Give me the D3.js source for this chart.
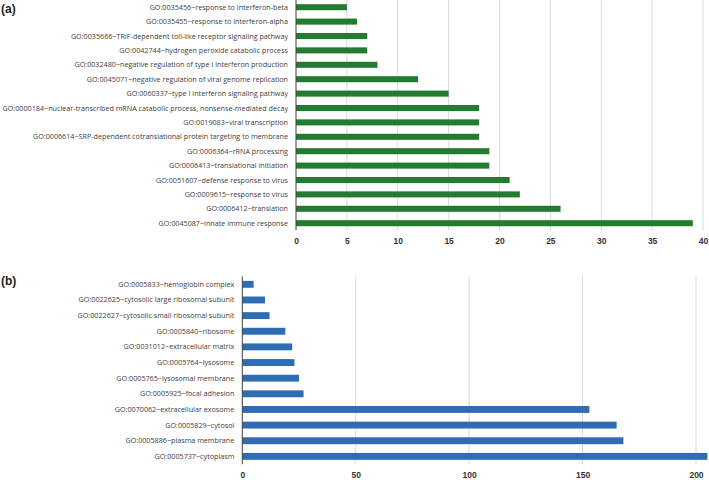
<!DOCTYPE html>
<html><head><meta charset="utf-8">
<script src="https://cdn.jsdelivr.net/npm/d3@7"></script>
<style>body{margin:0;background:#fff}svg{display:block}</style>
</head><body>
<svg id="c" width="709" height="480"></svg>
<script>
const catsA = [
 "GO:0035456~response to interferon-beta",
 "GO:0035455~response to interferon-alpha",
 "GO:0035666~TRIF-dependent toll-like receptor signaling pathway",
 "GO:0042744~hydrogen peroxide catabolic process",
 "GO:0032480~negative regulation of type I interferon production",
 "GO:0045071~negative regulation of viral genome replication",
 "GO:0060337~type I interferon signaling pathway",
 "GO:0000184~nuclear-transcribed mRNA catabolic process, nonsense-mediated decay",
 "GO:0019083~viral transcription",
 "GO:0006614~SRP-dependent cotranslational protein targeting to membrane",
 "GO:0006364~rRNA processing",
 "GO:0006413~translational initiation",
 "GO:0051607~defense response to virus",
 "GO:0009615~response to virus",
 "GO:0006412~translation",
 "GO:0045087~innate immune response"
];
const valsA = [5,6,7,7,8,12,15,18,18,18,19,19,21,22,26,39];
const ticksA = [0,5,10,15,20,25,30,35,40];

const catsB = [
 "GO:0005833~hemoglobin complex",
 "GO:0022625~cytosolic large ribosomal subunit",
 "GO:0022627~cytosolic small ribosomal subunit",
 "GO:0005840~ribosome",
 "GO:0031012~extracellular matrix",
 "GO:0005764~lysosome",
 "GO:0005765~lysosomal membrane",
 "GO:0005925~focal adhesion",
 "GO:0070062~extracellular exosome",
 "GO:0005829~cytosol",
 "GO:0005886~plasma membrane",
 "GO:0005737~cytoplasm"
];
const valsB = [5,10,12,19,22,23,25,27,153,165,168,205];
const ticksB = [0,50,100,150,200];

const svg = d3.select("#c");
const labelFont = "'Liberation Sans Narrow', 'Open Sans', sans-serif";

// size label font so the longest label spans the reference width
const probe = svg.append("text").attr("font-family", labelFont).attr("font-size", 10)
  .text(catsA[7]);
const w10 = probe.node().getComputedTextLength();
probe.remove();
const labelFs = Math.min(9, 10 * 286 / w10);

function panel(cfg){
  const g = svg.append("g");
  const x = d3.scaleLinear().domain(cfg.domain).range([cfg.x0, cfg.x1]);
  const y = d3.scaleBand().domain(cfg.cats).range([cfg.y0, cfg.y1]).paddingInner(cfg.pad).paddingOuter(cfg.pad/2);
  g.selectAll("line.grid").data(cfg.ticks.filter(t=>t>0)).join("line")
    .attr("x1", d=>x(d)).attr("x2", d=>x(d))
    .attr("y1", cfg.y0).attr("y2", cfg.y1)
    .attr("stroke", "#d9d9d9").attr("stroke-width", 1);
  g.selectAll("rect").data(cfg.vals).join("rect")
    .attr("x", x(0)).attr("y", (d,i)=>y(cfg.cats[i]))
    .attr("width", d=>x(d)-x(0)).attr("height", y.bandwidth())
    .attr("fill", cfg.color);
  g.append("line").attr("x1", x(0)).attr("x2", x(0)).attr("y1", cfg.y0).attr("y2", cfg.y1)
    .attr("stroke", "#404040").attr("stroke-width", 1);
  g.selectAll("text.cat").data(cfg.cats).join("text")
    .attr("x", x(0) - 8).attr("y", d=>y(d)+y.bandwidth()/2)
    .attr("dy", "0.35em").attr("text-anchor", "end")
    .attr("font-family", labelFont).attr("font-size", labelFs)
    .attr("fill", "#404040").text(d=>d);
  const xa = d3.axisBottom(x).tickValues(cfg.ticks).tickSize(0).tickPadding(0).tickFormat(d3.format("d"));
  const ax = g.append("g").attr("transform", `translate(0,${cfg.ty})`).call(xa);
  ax.select(".domain").remove();
  ax.selectAll("text").attr("font-family", "'Liberation Sans', sans-serif").attr("font-size", 8.5)
    .attr("font-weight", "bold").attr("fill", "#333").attr("dy", "0.35em");
  svg.append("text").attr("x", 1).attr("y", cfg.ly).attr("font-family", "Liberation Sans, Arial, sans-serif")
    .attr("font-weight", "bold").attr("font-size", 12).attr("fill", "#222").text(cfg.label);
}

panel({cats:catsA, vals:valsA, ticks:ticksA, domain:[0,40], x0:296, x1:703,
  y0:0, y1:230.4, pad:0.58, color:"#237b2f", ty:241, label:"(a)", ly:13});
panel({cats:catsB, vals:valsB, ticks:ticksB, domain:[0,200], x0:242.3, x1:696,
  y0:276.5, y1:464.2, pad:0.56, color:"#2e6db3", ty:475, label:"(b)", ly:285});
</script>
</body></html>
